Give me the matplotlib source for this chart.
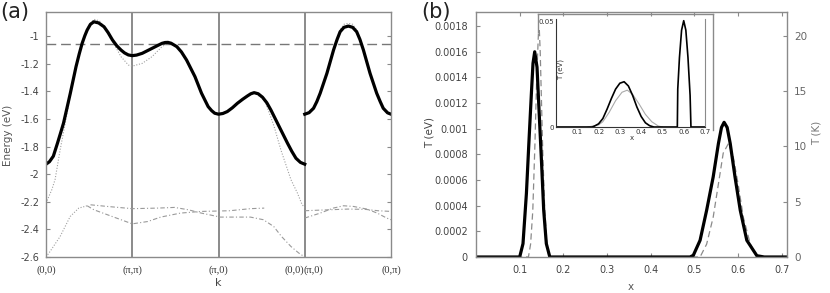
import matplotlib
matplotlib.use('Agg')
import matplotlib.pyplot as plt
from matplotlib.lines import Line2D

# ---------------- Panel (a) data ----------------
k_thick1 = [0.0, 0.04, 0.085, 0.133, 0.17, 0.203, 0.24, 0.282, 0.348, 0.385, 0.419, 0.45, 0.477, 0.515,
            0.555, 0.61, 0.673, 0.72, 0.771, 0.82, 0.869, 0.91, 0.955, 1.0, 1.05, 1.116, 1.17, 1.23, 1.29,
            1.345, 1.38, 1.414, 1.45, 1.517, 1.57, 1.63, 1.727, 1.803, 1.88, 1.92, 1.956, 2.0, 2.05, 2.102,
            2.16, 2.219, 2.28, 2.335, 2.375, 2.413, 2.46, 2.51, 2.56, 2.607, 2.703, 2.8, 2.85, 2.898, 2.95, 3.0]
E_thick1 = [-1.928, -1.91, -1.87, -1.776, -1.70, -1.631, -1.53, -1.414, -1.222, -1.13, -1.053, -0.998, -0.957,
            -0.915, -0.897, -0.905, -0.933, -0.975, -1.029, -1.07, -1.101, -1.122, -1.137, -1.142, -1.138, -1.125,
            -1.108, -1.089, -1.07, -1.053, -1.047, -1.046, -1.052, -1.077, -1.115, -1.174, -1.294, -1.414, -1.511,
            -1.54, -1.559, -1.566, -1.561, -1.547, -1.52, -1.487, -1.458, -1.434, -1.418, -1.41, -1.418, -1.443,
            -1.483, -1.535, -1.655, -1.776, -1.835, -1.885, -1.915, -1.928]
k_thick2 = [3.0, 3.05, 3.102, 3.14, 3.179, 3.257, 3.334, 3.375, 3.41, 3.455, 3.506, 3.555, 3.602, 3.64, 3.68,
            3.757, 3.834, 3.875, 3.91, 3.96, 4.0]
E_thick2 = [-1.566, -1.555, -1.523, -1.475, -1.414, -1.27, -1.101, -1.025, -0.969, -0.937, -0.928, -0.937, -0.969,
            -1.025, -1.101, -1.27, -1.414, -1.475, -1.523, -1.556, -1.566]

k_dot1 = [0.0, 0.067, 0.105, 0.164, 0.223, 0.282, 0.348, 0.419, 0.477, 0.555, 0.62, 0.673, 0.75,
          0.8, 0.869, 0.955, 1.0, 1.116, 1.23, 1.345, 1.414, 1.517, 1.63, 1.727, 1.803, 1.88,
          1.956, 2.0, 2.102, 2.219, 2.335, 2.413, 2.51, 2.55, 2.645, 2.723, 2.84, 2.915, 2.97, 3.0]
E_dot1 = [-2.21, -2.113, -2.04, -1.824, -1.631, -1.43, -1.225, -1.05, -0.945, -0.879, -0.89, -0.93, -1.02,
          -1.07, -1.149, -1.21, -1.218, -1.198, -1.149, -1.077, -1.046, -1.077, -1.174, -1.294, -1.414, -1.511,
          -1.559, -1.566, -1.547, -1.487, -1.434, -1.41, -1.45, -1.49, -1.655, -1.824, -2.04, -2.137, -2.222, -2.24]
k_dot2 = [3.0, 3.102, 3.179, 3.257, 3.334, 3.41, 3.455, 3.506, 3.555, 3.602, 3.68, 3.757, 3.834, 3.91, 4.0]
E_dot2 = [-1.566, -1.523, -1.414, -1.27, -1.101, -0.955, -0.915, -0.908, -0.915, -0.955, -1.101, -1.27, -1.414,
          -1.523, -1.566]

k_low0 = [0.0, 0.047, 0.164, 0.28, 0.38, 0.477]
E_low0 = [-2.6, -2.56, -2.451, -2.307, -2.246, -2.229]
k_lowP = [0.477, 0.555, 0.712, 0.869, 1.0, 1.18, 1.33, 1.56, 1.8, 2.13, 2.37, 2.53]
E_lowP = [-2.229, -2.258, -2.294, -2.33, -2.36, -2.343, -2.311, -2.282, -2.27, -2.265, -2.25, -2.246]
k_lowQ = [0.516, 0.712, 1.0, 1.29, 1.49, 1.65, 1.8, 2.02, 2.37, 2.52, 2.64, 2.73, 2.84, 2.93, 3.0]
E_lowQ = [-2.222, -2.234, -2.25, -2.246, -2.241, -2.258, -2.282, -2.311, -2.311, -2.33, -2.379, -2.451, -2.524,
          -2.571, -2.6]
k_lowR = [3.0, 3.18, 3.33, 3.45, 3.565, 3.72, 3.84, 3.95, 4.0]
E_lowR = [-2.318, -2.282, -2.246, -2.229, -2.234, -2.253, -2.282, -2.318, -2.33]
k_lowS = [3.0, 3.2, 3.5, 3.7, 3.85, 4.0]
E_lowS = [-2.265, -2.26, -2.253, -2.255, -2.265, -2.27]

E_fermi = -1.06
a_yticks = [-2.6, -2.4, -2.2, -2.0, -1.8, -1.6, -1.4, -1.2, -1.0]
a_ytick_labels = ['-2.6', '-2.4', '-2.2', '-2', '-1.8', '-1.6', '-1.4', '-1.2', '-1']
a_sym_k = [1, 2, 3]

# ---------------- Panel (b) data ----------------
x_solid = [0.0, 0.100, 0.1076, 0.1154, 0.121, 0.1268, 0.1305, 0.1344, 0.1397, 0.1443, 0.1498, 0.155,
           0.161, 0.169, 0.49, 0.4975, 0.513, 0.528, 0.543, 0.555, 0.562, 0.568, 0.575, 0.582, 0.593,
           0.605, 0.62, 0.643, 0.66, 0.712]
T_solid = [0.0, 0.0, 0.000104, 0.000495, 0.000885, 0.001275, 0.00151, 0.0016, 0.00148, 0.001145, 0.000755,
           0.000364, 0.000104, 0.0, 0.0, 0.000013, 0.00013, 0.000364, 0.000624, 0.000885, 0.00101, 0.00105,
           0.00101, 0.000885, 0.000624, 0.000364, 0.00013, 0.00001, 0.0, 0.0]
x_dash = [0.0, 0.12, 0.125, 0.130, 0.135, 0.139, 0.143, 0.145, 0.147, 0.150, 0.153, 0.157, 0.162, 0.167,
          0.513, 0.528, 0.543, 0.555, 0.566, 0.578, 0.589, 0.601, 0.612, 0.628, 0.643, 0.712]
T_dash = [0.0, 0.0, 0.0001, 0.00036, 0.00089, 0.0014, 0.00175, 0.00177, 0.0016, 0.0012, 0.0008, 0.0004,
          0.00012, 0.0, 0.0, 0.0001, 0.00031, 0.00057, 0.00081, 0.000885, 0.00078, 0.00055, 0.00031, 0.0001,
          0.0, 0.0]
b_xticks = [0.1, 0.2, 0.3, 0.4, 0.5, 0.6, 0.7]
b_yticks = [0, 0.0002, 0.0004, 0.0006, 0.0008, 0.001, 0.0012, 0.0014, 0.0016, 0.0018]
b_ytick_labels = ['0', '0.0002', '0.0004', '0.0006', '0.0008', '0.001', '0.0012', '0.0014', '0.0016', '0.0018']
b_kticks = [0, 5, 10, 15, 20]
eV_to_K = 11604.5

# inset
xi_solid = [0.0, 0.17, 0.18, 0.20, 0.22, 0.24, 0.26, 0.28, 0.30, 0.32, 0.34, 0.36, 0.38, 0.40, 0.42,
            0.44, 0.46, 0.57, 0.572, 0.58, 0.59, 0.60, 0.61, 0.62, 0.63, 0.634, 0.7]
Ti_solid = [0.0, 0.0, 0.0004, 0.0015, 0.004, 0.0085, 0.0135, 0.018, 0.0208, 0.0215, 0.0195, 0.015, 0.0095,
            0.005, 0.002, 0.0006, 0.0, 0.0, 0.018, 0.033, 0.046, 0.0505, 0.046, 0.033, 0.015, 0.0, 0.0]
xi_gray = [0.15, 0.2, 0.22, 0.25, 0.28, 0.31, 0.335, 0.36, 0.39, 0.42, 0.45, 0.48, 0.5]
Ti_gray = [0.0, 0.001, 0.0025, 0.007, 0.0125, 0.0165, 0.0175, 0.0155, 0.011, 0.006, 0.0025, 0.0005, 0.0]
i_xticks = [0.1, 0.2, 0.3, 0.4, 0.5, 0.6, 0.7]

W, H = 830, 293
fig = plt.figure(figsize=(W / 100, H / 100), dpi=100)

def fx(px):
    return px / W

def fy(py):
    return 1 - py / H

frame_c = '#8a8a8a'
txt_c = '#444444'

# ---------------- Panel (a) ----------------
axa = fig.add_axes([fx(46), fy(257), fx(391) - fx(46), fy(12) - fy(257)])
axa.set_xlim(0, 4)
axa.set_ylim(-2.6, -0.826)
for s in axa.spines.values():
    s.set_color(frame_c)
    s.set_linewidth(1.0)
for kk in a_sym_k:
    axa.axvline(kk, color='#777777', lw=1.2)
axa.axhline(E_fermi, color='#777777', lw=1.0, ls=(0, (7, 3.5)))
lowstyle = dict(color='#9a9a9a', lw=0.8, ls=(0, (4, 2, 1, 2)))
axa.plot(k_low0, E_low0, color='#a0a0a0', lw=0.8, ls=(0, (1, 1.5)))
axa.plot(k_lowP, E_lowP, **lowstyle)
axa.plot(k_lowQ, E_lowQ, **lowstyle)
axa.plot(k_lowR, E_lowR, **lowstyle)
axa.plot(k_lowS, E_lowS, **lowstyle)
axa.plot(k_dot1, E_dot1, color='#a0a0a0', lw=0.8, ls=(0, (1, 1.5)))
axa.plot(k_dot2, E_dot2, color='#a0a0a0', lw=0.8, ls=(0, (1, 1.5)))
axa.plot(k_thick1, E_thick1, color='black', lw=2.3, solid_joinstyle='round')
axa.plot(k_thick2, E_thick2, color='black', lw=2.3, solid_joinstyle='round')
axa.set_yticks(a_yticks)
axa.set_yticklabels(a_ytick_labels)
axa.tick_params(axis='y', direction='in', length=3, color=frame_c, labelsize=7, labelcolor=txt_c,
                left=True, right=True, pad=5)
axa.set_xticks([])
serif = dict(family='Liberation Serif', fontsize=7.5, color='#333333')
lab_y = fy(270)
fig.text(fx(46), lab_y, '(0,0)', ha='center', va='center', **serif)
fig.text(fx(132), lab_y, '(\u03c0,\u03c0)', ha='center', va='center', **serif)
fig.text(fx(218.5), lab_y, '(\u03c0,0)', ha='center', va='center', **serif)
fig.text(fx(304), lab_y, '(0,0)', ha='right', va='center', **serif)
fig.text(fx(304), lab_y, '(\u03c0,0)', ha='left', va='center', **serif)
fig.text(fx(391), lab_y, '(0,\u03c0)', ha='center', va='center', **serif)
fig.text(fx(218), fy(283), 'k', ha='center', va='center', fontsize=8, color=txt_c)
fig.text(fx(8), fy(135), 'Energy (eV)', ha='center', va='center', rotation=90, fontsize=7.5, color='#555555')
fig.text(fx(0), fy(12), '(a)', ha='left', va='center', fontsize=15, color='#222222')

# ---------------- Panel (b) ----------------
axb = fig.add_axes([fx(476), fy(257), fx(787) - fx(476), fy(12) - fy(257)])
axb.set_xlim(0, 0.712)
axb.set_ylim(0, 0.00191)
for s in axb.spines.values():
    s.set_color(frame_c)
    s.set_linewidth(1.0)
axb.plot(x_dash, T_dash, color='#8a8a8a', lw=0.9, ls=(0, (5, 3)))
axb.plot(x_solid, T_solid, color='black', lw=2.3, solid_joinstyle='round')
axb.set_xticks(b_xticks)
axb.set_xticklabels([f'{v:g}' for v in b_xticks])
axb.set_yticks(b_yticks)
axb.set_yticklabels(b_ytick_labels)
axb.tick_params(direction='in', length=3, color=frame_c, labelsize=7, labelcolor=txt_c, top=True, pad=6)
axk = axb.twinx()
axk.set_ylim(0, 0.00191 * eV_to_K)
axk.set_yticks(b_kticks)
axk.tick_params(direction='in', length=3, color=frame_c, labelsize=7.5, labelcolor='#666666', pad=5)
for s in axk.spines.values():
    s.set_visible(False)
fig.text(fx(430), fy(133), 'T (eV)', ha='center', va='center', rotation=90, fontsize=7.5, color='#444444')
fig.text(fx(817), fy(133), 'T (K)', ha='center', va='center', rotation=90, fontsize=7.5, color='#777777')
fig.text(fx(631), fy(287), 'x', ha='center', va='center', fontsize=7.5, color='#555555')
fig.text(fx(421), fy(12), '(b)', ha='left', va='center', fontsize=15, color='#222222')

# inset outer frame
for (x0, y0, x1, y1) in [(538, 14, 713, 14), (713, 14, 713, 130), (538, 14, 538, 32)]:
    fig.add_artist(Line2D([fx(x0), fx(x1)], [fy(y0), fy(y1)], color=frame_c, lw=1.0))

axi = fig.add_axes([fx(556), fy(127), fx(705) - fx(556), fy(19) - fy(127)])
axi.set_facecolor('none')
axi.set_xlim(0, 0.7)
axi.set_ylim(0, 0.0513)
axi.spines['left'].set_color('#333333')
axi.spines['bottom'].set_color('#333333')
axi.spines['top'].set_visible(False)
axi.spines['right'].set_color(frame_c)
for s in axi.spines.values():
    s.set_linewidth(0.8)
axi.plot(xi_gray, Ti_gray, color='#aaaaaa', lw=0.8)
axi.plot(xi_solid, Ti_solid, color='black', lw=1.2)
axi.set_xticks(i_xticks)
axi.set_xticklabels([f'{v:g}' for v in i_xticks])
axi.set_yticks([0, 0.05])
axi.set_yticklabels(['0', '0.05'])
axi.tick_params(direction='in', length=0, labelsize=5, labelcolor='#333333', pad=1.5)
fig.text(fx(561), fy(70), 'T (eV)', ha='center', va='center', rotation=90, fontsize=5, color='#333333')
fig.text(fx(632), fy(138), 'x', ha='center', va='center', fontsize=5, color='#333333')

fig.savefig('out.png', dpi=100)
